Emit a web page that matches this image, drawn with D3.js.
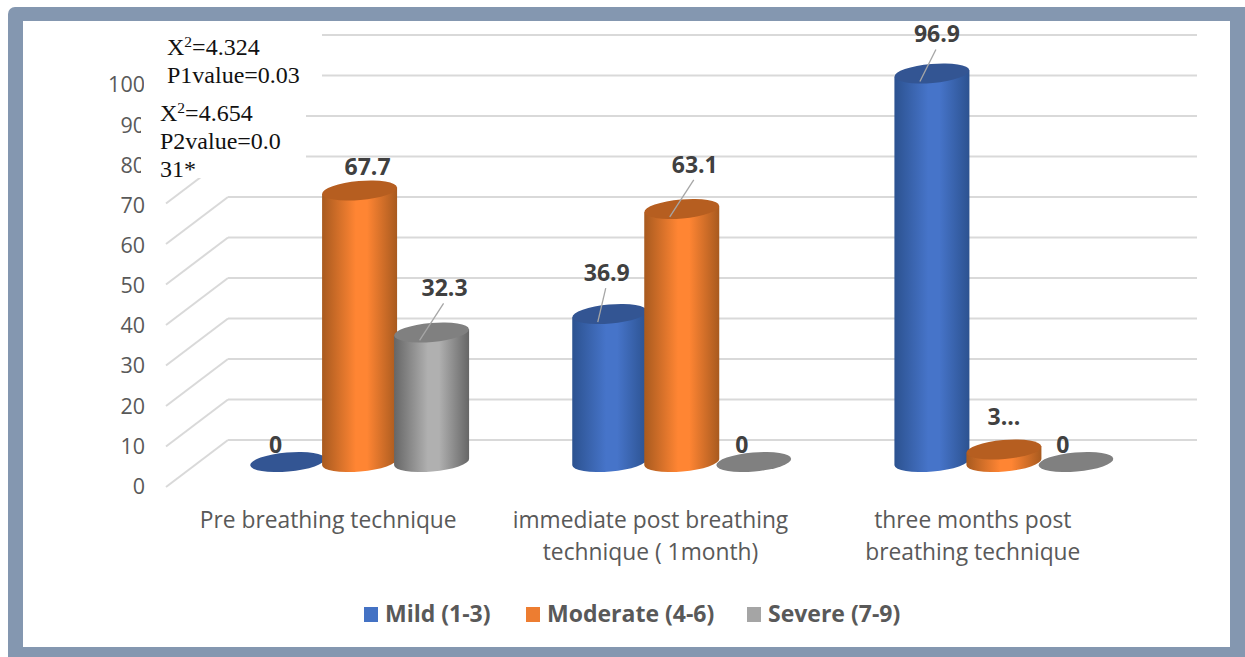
<!DOCTYPE html>
<html>
<head>
<script src="https://cdn.jsdelivr.net/npm/d3@7"></script>
<style type="text/css">
  body{
    background: white;
    margin: 0px;
  }
  svg{
    display: block;
  }
  .tickText text{
    font-family: 'Open Sans';
    font-size: 21.5px;
    fill: #595959;
  }
  .catText{
    font-family: 'Open Sans';
    font-size: 22.8px;
    fill: #595959;
    text-anchor: middle;
  }
  .valText{
    font-family: 'Open Sans';
    font-size: 23px;
    font-weight: bold;
    fill: #404040;
    text-anchor: middle;
  }
  .legText{
    font-family: 'Open Sans';
    font-size: 23px;
    font-weight: bold;
    fill: #595959;
  }
  .statText{
    font-family: 'Liberation Serif';
    font-size: 24px;
    fill: #111;
  }
  .grid{
    stroke: #d9d9d9;
    stroke-width: 2px;
  }
</style>
</head>
<body>
<script>

var categories = ["Pre breathing technique", "immediate post breathing technique ( 1month)", "three months post breathing technique"];
var categoryLines = [["Pre breathing technique"], ["immediate post breathing", "technique ( 1month)"], ["three months post", "breathing technique"]];
var seriesNames = ["Mild (1-3)", "Moderate (4-6)", "Severe (7-9)"];
var mild = [0, 36.9, 96.9];
var moderate = [67.7, 63.1, 3.1];
var severe = [32.3, 0, 0];
var valueLabels = [["0", "36.9", "96.9"], ["67.7", "63.1", "3..."], ["32.3", "0", "0"]];
var yTicks = [0, 10, 20, 30, 40, 50, 60, 70, 80, 90, 100];
var statsOne = [["X", "2", "=4.324"], ["P1value=0.03"]];
var statsTwo = [["X", "2", "=4.654"], ["P2value=0.0"], ["31*"]];

// label offset from the top of each bar, [dx, dy, leader line or not]
var labelNudge = [
  [[-12, -9, 0], [-3, -33, 1], [5, -31, 1]],
  [[8, -16, 0], [13, -36, 1], [0, -25, 0]],
  [[13, -36, 1], [-12, -9, 0], [-13, -9, 0]]
];

var allSeries = [mild, moderate, severe];
var sideColors = [["#2c5290", "#4674c9"], ["#a85a1f", "#ff8533"], ["#666666", "#b0b0b0"]];
var topColors = ["#335593", "#b65e20", "#808080"];
var legendColors = ["#4472c4", "#ed7d31", "#a5a5a5"];

var width = 1245, height = 657;
var rx = 37.5, ry = 9.5, tilt = 5;
var rise = rx * Math.sin(tilt * Math.PI / 180);

var svg = d3.select("body").append("svg")
    .attr("width", width)
    .attr("height", height);

// frame
svg.append("rect")
    .attr("x", 8).attr("y", 7)
    .attr("width", width - 8 + 10).attr("height", height - 7 + 10)
    .attr("rx", 7)
    .attr("fill", "#8497b0");
svg.append("rect")
    .attr("x", 23).attr("y", 21)
    .attr("width", 1207).attr("height", 626)
    .attr("fill", "white");

var xGroup = d3.scaleBand().domain(categories).range([198.5, 1165]);
var xSeries = d3.scaleBand().domain(seriesNames).range([-108, 108]);
var xLabel = d3.scaleBand().domain(categories).range([167, 1134]);

var yWall = d3.scaleLinear().domain([0, 100]).range([440, 35]);
var yEdge = d3.scaleLinear().domain([0, 100]).range([487, 82]);
var yFront = d3.scaleLinear().domain([0, 100]).range([486.5, 85]);
var yBar = d3.scaleLinear().domain([0, 100]).range([462, 61]);

var defs = svg.append("defs");
sideColors.forEach(function(c, i) {
  var grad = defs.append("linearGradient").attr("id", "side" + i);
  grad.append("stop").attr("offset", "0%").attr("stop-color", c[0]);
  grad.append("stop").attr("offset", "45%").attr("stop-color", c[1]);
  grad.append("stop").attr("offset", "60%").attr("stop-color", c[1]);
  grad.append("stop").attr("offset", "100%").attr("stop-color", c[0]);
});

// walls
svg.append("g").selectAll("line.back").data(yTicks).enter().append("line")
    .attr("class", "grid back")
    .attr("x1", 228).attr("x2", 1197)
    .attr("y1", function(d) { return yWall(d); })
    .attr("y2", function(d) { return yWall(d); });
svg.append("g").selectAll("line.side").data(yTicks).enter().append("line")
    .attr("class", "grid side")
    .attr("x1", 166).attr("x2", 228)
    .attr("y1", function(d) { return yEdge(d); })
    .attr("y2", function(d) { return yWall(d); });

// y axis labels
var axis = d3.axisLeft(yFront).tickValues(yTicks).tickSize(0).tickPadding(0);
svg.append("g")
    .attr("class", "tickText")
    .attr("transform", "translate(145,0)")
    .call(axis)
    .call(function(g) { g.select(".domain").remove(); });

// the two white text boxes sit on top of the axis and grid
svg.append("rect").attr("x", 144).attr("y", 24).attr("width", 178).attr("height", 71).attr("fill", "white");
svg.append("rect").attr("x", 141).attr("y", 95).attr("width", 165).attr("height", 83).attr("fill", "white");

function statBlock(lines, x, y0, step) {
  lines.forEach(function(parts, i) {
    var t = svg.append("text").attr("class", "statText").attr("x", x).attr("y", y0 + i * step);
    if (parts.length === 1) {
      t.text(parts[0]);
    } else {
      t.append("tspan").text(parts[0]);
      t.append("tspan").attr("dy", -8).style("font-size", "15.5px").text(parts[1]);
      t.append("tspan").attr("dy", 8).text(parts[2]);
    }
  });
}
statBlock(statsOne, 167, 55, 28);
statBlock(statsTwo, 160, 121, 28);

// cylinders
function sidePath(cx, yTop, yBase) {
  return "M" + (cx - rx) + "," + (yTop + rise) +
    "L" + (cx - rx) + "," + (yBase + rise) +
    "A" + rx + "," + ry + " " + (-tilt) + " 0 0 " + (cx + rx) + "," + (yBase - rise) +
    "L" + (cx + rx) + "," + (yTop - rise) + "Z";
}

categories.forEach(function(cat, g) {
  seriesNames.forEach(function(name, s) {
    var v = allSeries[s][g];
    var cx = xGroup(cat) + xGroup.bandwidth() / 2 + xSeries(name) + xSeries.bandwidth() / 2;
    var yTop = yBar(v);
    if (v > 0) {
      svg.append("path")
          .attr("d", sidePath(cx, yTop, yBar(0)))
          .attr("fill", "url(#side" + s + ")");
    }
    svg.append("ellipse")
        .attr("cx", 0).attr("cy", 0)
        .attr("rx", rx).attr("ry", ry)
        .attr("transform", "translate(" + cx + "," + yTop + ") rotate(" + (-tilt) + ")")
        .attr("fill", topColors[s]);
  });
});

// data labels go over all bars
categories.forEach(function(cat, g) {
  seriesNames.forEach(function(name, s) {
    var v = allSeries[s][g];
    var cx = xGroup(cat) + xGroup.bandwidth() / 2 + xSeries(name) + xSeries.bandwidth() / 2;
    var yTop = yBar(v);
    var n = labelNudge[s][g];
    if (n[2]) {
      svg.append("line")
          .attr("x1", cx - 12).attr("y1", yTop + 8)
          .attr("x2", cx + n[0] - 1).attr("y2", yTop + n[1] + 7)
          .attr("stroke", "#a6a6a6")
          .attr("stroke-width", 1.3);
    }
    svg.append("text")
        .attr("class", "valText")
        .attr("x", cx + n[0])
        .attr("y", yTop + n[1])
        .text(valueLabels[s][g]);
  });
});

// category labels
categories.forEach(function(cat, g) {
  categoryLines[g].forEach(function(line, i) {
    svg.append("text")
        .attr("class", "catText")
        .attr("x", xLabel(cat) + xLabel.bandwidth() / 2)
        .attr("y", 528 + i * 32)
        .text(line);
  });
});

// legend
var legendX = d3.scaleOrdinal().domain(seriesNames).range([364, 526, 747]);
var legend = svg.append("g").selectAll("g").data(seriesNames).enter().append("g")
    .attr("transform", function(d) { return "translate(" + legendX(d) + ",607)"; });
legend.append("rect")
    .attr("width", 14).attr("height", 15)
    .attr("fill", function(d, i) { return legendColors[i]; });
legend.append("text")
    .attr("class", "legText")
    .attr("x", 21).attr("y", 15)
    .text(function(d) { return d; });

</script>
</body>
</html>
